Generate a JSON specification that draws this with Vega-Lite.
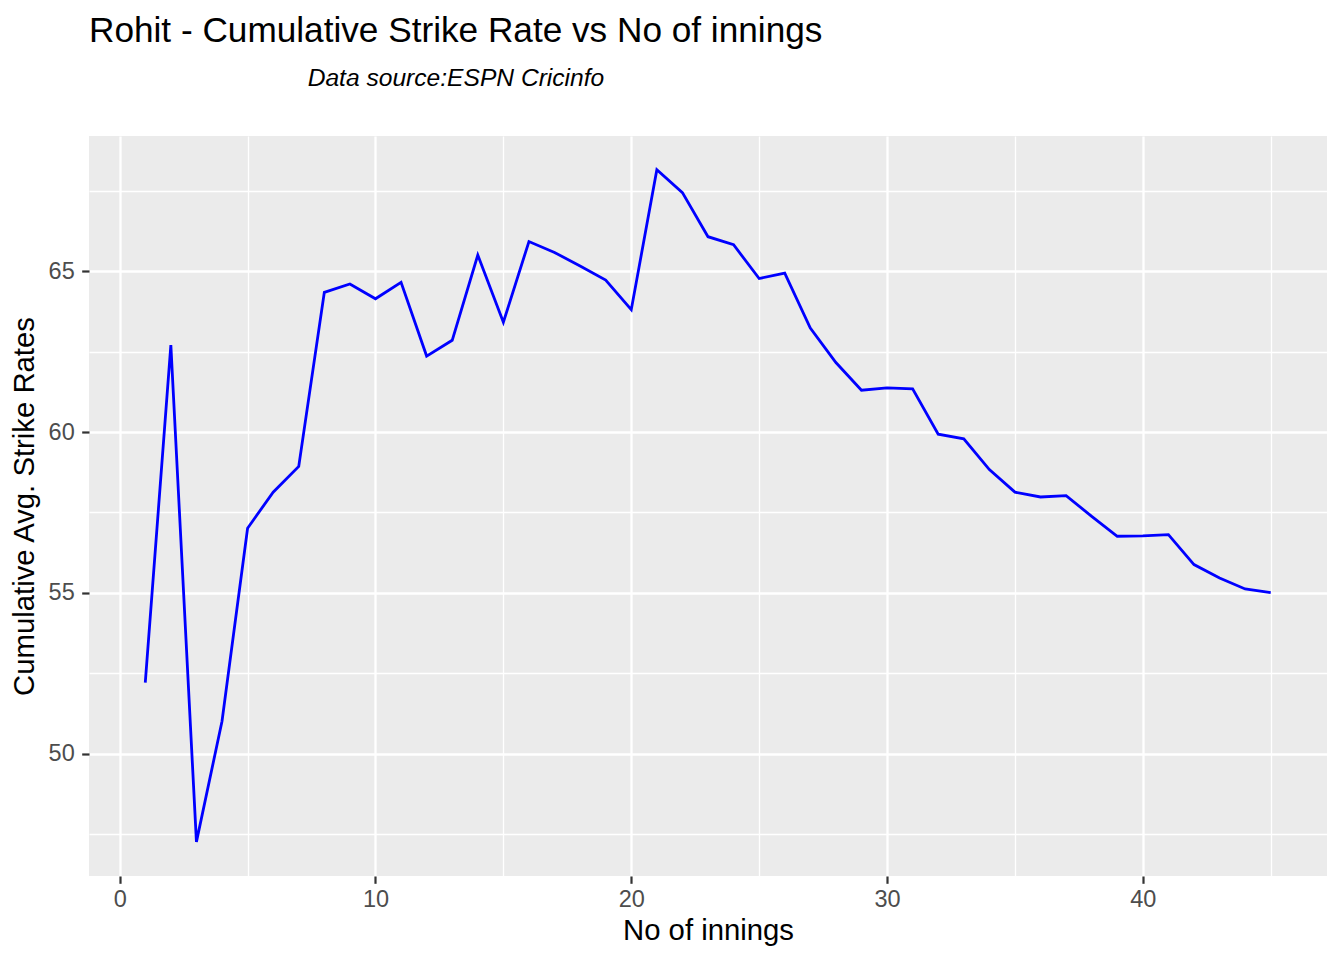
{
  "$schema": "https://vega.github.io/schema/vega-lite/v6.json",
  "width": 1238,
  "height": 740,
  "autosize": {"type": "none"},
  "padding": {"left": 89, "top": 136, "right": 17, "bottom": 84},
  "background": "white",
  "config": {
    "view": {"fill": "#EBEBEB", "stroke": null},
    "font": "Liberation Sans"
  },
  "title": {
    "text": "Rohit - Cumulative Strike Rate vs No of innings",
    "subtitle": "\u200b\u00a0\u00a0\u00a0\u00a0\u00a0\u00a0\u00a0\u00a0\u00a0\u00a0\u00a0\u00a0\u00a0\u00a0\u00a0\u00a0\u00a0\u00a0\u00a0\u00a0\u00a0\u00a0\u00a0\u00a0\u00a0\u00a0\u00a0\u00a0\u00a0\u00a0\u00a0\u00a0Data source:ESPN Cricinfo",
    "anchor": "start",
    "frame": "group",
    "font": "Liberation Sans",
    "fontSize": 35.2,
    "fontWeight": "normal",
    "color": "black",
    "subtitleFont": "Liberation Sans",
    "subtitleFontSize": 24.6,
    "subtitleFontStyle": "italic",
    "subtitleColor": "black",
    "subtitlePadding": 18,
    "offset": 45
  },
  "data": {
    "values": [
      {"innings": 1, "sr": 52.21},
      {"innings": 2, "sr": 62.70},
      {"innings": 3, "sr": 47.26},
      {"innings": 4, "sr": 51.01},
      {"innings": 5, "sr": 57.01},
      {"innings": 6, "sr": 58.13},
      {"innings": 7, "sr": 58.93},
      {"innings": 8, "sr": 64.34},
      {"innings": 9, "sr": 64.60},
      {"innings": 10, "sr": 64.14},
      {"innings": 11, "sr": 64.65},
      {"innings": 12, "sr": 62.36},
      {"innings": 13, "sr": 62.85},
      {"innings": 14, "sr": 65.50},
      {"innings": 15, "sr": 63.41},
      {"innings": 16, "sr": 65.92},
      {"innings": 17, "sr": 65.58},
      {"innings": 18, "sr": 65.16},
      {"innings": 19, "sr": 64.72},
      {"innings": 20, "sr": 63.80},
      {"innings": 21, "sr": 68.15},
      {"innings": 22, "sr": 67.44},
      {"innings": 23, "sr": 66.07},
      {"innings": 24, "sr": 65.82},
      {"innings": 25, "sr": 64.77},
      {"innings": 26, "sr": 64.94},
      {"innings": 27, "sr": 63.23},
      {"innings": 28, "sr": 62.16},
      {"innings": 29, "sr": 61.30},
      {"innings": 30, "sr": 61.37},
      {"innings": 31, "sr": 61.34},
      {"innings": 32, "sr": 59.93},
      {"innings": 33, "sr": 59.79},
      {"innings": 34, "sr": 58.83},
      {"innings": 35, "sr": 58.13},
      {"innings": 36, "sr": 57.98},
      {"innings": 37, "sr": 58.02},
      {"innings": 38, "sr": 57.38},
      {"innings": 39, "sr": 56.76},
      {"innings": 40, "sr": 56.77},
      {"innings": 41, "sr": 56.81},
      {"innings": 42, "sr": 55.88},
      {"innings": 43, "sr": 55.46},
      {"innings": 44, "sr": 55.12},
      {"innings": 45, "sr": 55.01}
    ]
  },
  "layer": [
    {
      "mark": {"type": "line", "opacity": 0},
      "encoding": {
        "x": {
          "field": "innings", "type": "quantitative",
          "scale": {"domain": [-1.2, 47.2], "nice": false, "zero": false},
          "axis": {
            "orient": "bottom", "values": [5, 15, 25, 35, 45],
            "labels": false, "ticks": false, "domain": false, "title": null,
            "grid": true, "gridColor": "white", "gridWidth": 1.3
          }
        },
        "y": {
          "field": "sr", "type": "quantitative",
          "scale": {"domain": [46.2, 69.2], "nice": false, "zero": false},
          "axis": {
            "orient": "left", "values": [47.5, 52.5, 57.5, 62.5, 67.5],
            "labels": false, "ticks": false, "domain": false, "title": null,
            "grid": true, "gridColor": "white", "gridWidth": 1.3
          }
        }
      }
    },
    {
      "mark": {"type": "line", "color": "#0000FF", "strokeWidth": 2.8},
      "encoding": {
        "x": {
          "field": "innings", "type": "quantitative",
          "scale": {"domain": [-1.2, 47.2], "nice": false, "zero": false},
          "axis": {
            "orient": "bottom", "values": [0, 10, 20, 30, 40],
            "title": "No of innings", "domain": false,
            "grid": true, "gridColor": "white", "gridWidth": 2.3,
            "ticks": true, "tickColor": "#333333", "tickWidth": 2.2, "tickSize": 7.3,
            "labelColor": "#4D4D4D", "labelFontSize": 23.5, "labelFont": "Liberation Sans", "labelPadding": 4,
            "titleFont": "Liberation Sans", "titleFontSize": 29.3, "titleFontWeight": "normal", "titleColor": "black", "titlePadding": 6
          }
        },
        "y": {
          "field": "sr", "type": "quantitative",
          "scale": {"domain": [46.2, 69.2], "nice": false, "zero": false},
          "axis": {
            "orient": "left", "values": [50, 55, 60, 65],
            "title": "Cumulative Avg. Strike Rates", "domain": false,
            "grid": true, "gridColor": "white", "gridWidth": 2.3,
            "ticks": true, "tickColor": "#333333", "tickWidth": 2.2, "tickSize": 7.3,
            "labelColor": "#4D4D4D", "labelFontSize": 23.5, "labelFont": "Liberation Sans", "labelPadding": 7.5,
            "titleFont": "Liberation Sans", "titleFontSize": 29.3, "titleFontWeight": "normal", "titleColor": "black", "titlePadding": 9
          }
        }
      }
    }
  ],
  "resolve": {"axis": {"x": "independent", "y": "independent"}}
}
